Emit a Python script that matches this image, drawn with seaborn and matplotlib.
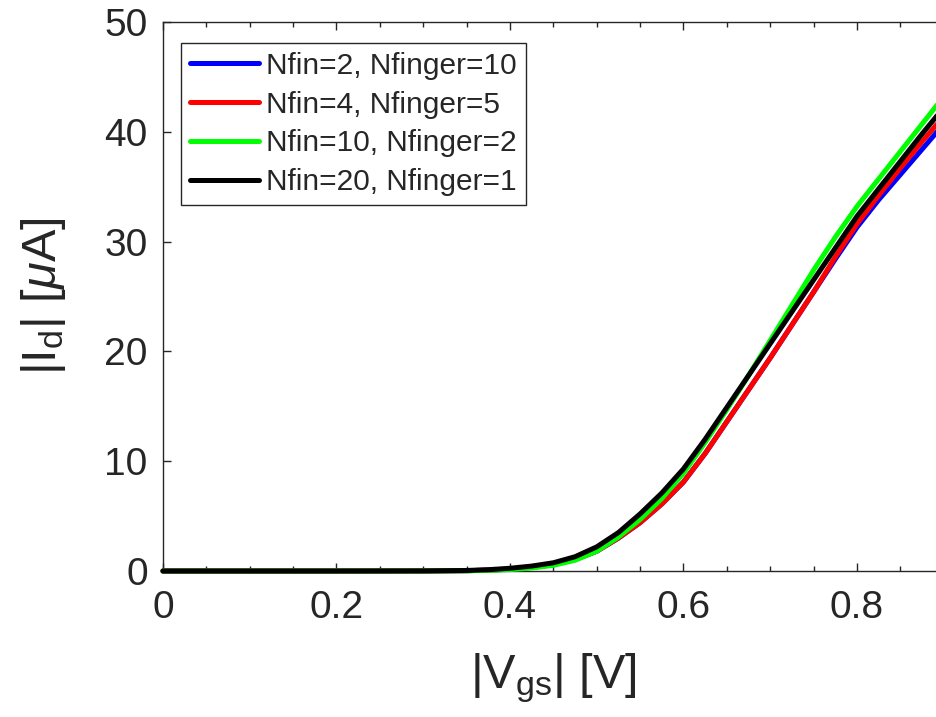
import numpy as np
import pandas as pd
import matplotlib
matplotlib.use("Agg")
import matplotlib.pyplot as plt
import seaborn as sns
from matplotlib.ticker import MultipleLocator

# ---- data ----
vgs = [0.0, 0.1, 0.2, 0.3, 0.35, 0.375, 0.4, 0.425, 0.45, 0.475, 0.5, 0.525,
       0.55, 0.575, 0.6, 0.625, 0.65, 0.675, 0.7, 0.725, 0.75, 0.775, 0.8,
       0.825, 0.85, 0.875, 0.9]
id_nfin2 = [0, 0, 0, 0.005, 0.03, 0.08, 0.17, 0.33, 0.58, 1.05, 1.8, 3.0,
            4.4, 6.1, 8.1, 10.7, 13.6, 16.5, 19.4, 22.4, 25.4, 28.4, 31.3,
            33.8, 36.1, 38.4, 40.7]
id_nfin4 = [0, 0, 0, 0.005, 0.03, 0.08, 0.17, 0.33, 0.58, 1.05, 1.8, 3.0,
            4.4, 6.1, 8.1, 10.7, 13.6, 16.5, 19.4, 22.4, 25.4, 28.6, 31.6,
            34.2, 36.7, 39.1, 41.4]
id_nfin10 = [0, 0, 0, 0.003, 0.02, 0.06, 0.13, 0.28, 0.52, 0.98, 1.8, 3.1,
             4.7, 6.6, 8.9, 11.7, 14.7, 17.8, 21.0, 24.2, 27.4, 30.4, 33.2,
             35.7, 38.2, 40.7, 43.2]
id_nfin20 = [0, 0, 0, 0.01, 0.05, 0.12, 0.25, 0.45, 0.75, 1.3, 2.2, 3.5,
             5.2, 7.1, 9.3, 12.0, 14.9, 17.8, 20.7, 23.6, 26.5, 29.4, 32.3,
             34.8, 37.3, 39.8, 42.2]
labels = ["Nfin=2, Nfinger=10", "Nfin=4, Nfinger=5",
          "Nfin=10, Nfinger=2", "Nfin=20, Nfinger=1"]
colors = ["#0000ff", "#ff0000", "#00ff00", "#000000"]
xticks = [0, 0.2, 0.4, 0.6, 0.8]
xticklabels = ["0", "0.2", "0.4", "0.6", "0.8"]
yticks = [0, 10, 20, 30, 40, 50]

series = [id_nfin2, id_nfin4, id_nfin10, id_nfin20]
df = pd.concat(
    [pd.DataFrame({"vgs": vgs, "id": s, "config": lab}) for s, lab in zip(series, labels)],
    ignore_index=True,
)

# ---- style ----
sns.set_style("ticks")
plt.rcParams["font.family"] = ["Liberation Sans", "DejaVu Sans"]
plt.rcParams["mathtext.fontset"] = "custom"
plt.rcParams["mathtext.rm"] = "Liberation Sans"
plt.rcParams["mathtext.it"] = "Liberation Sans:italic"
plt.rcParams["mathtext.bf"] = "Liberation Sans:bold"
plt.rcParams["mathtext.default"] = "regular"

dark = "#262626"
fig = plt.figure(figsize=(9.36, 7.17), dpi=100)
ax = fig.add_axes([0.1741, 0.2036, 0.8341, 0.7657])

sns.lineplot(data=df, x="vgs", y="id", hue="config", hue_order=labels,
             palette=colors, linewidth=3.6, estimator=None, sort=False, ax=ax)
for ln in ax.get_lines():
    ln.set_clip_on(False)
    ln.set_zorder(5)

ax.set_xlim(0, 0.9)
ax.set_ylim(0, 50)
ax.set_xticks(xticks)
ax.set_xticklabels(xticklabels)
ax.xaxis.set_minor_locator(MultipleLocator(0.05))
ax.set_yticks(yticks)
ax.tick_params(which="both", direction="in", top=True, right=True,
               colors=dark, labelcolor=dark, width=1.0)
ax.tick_params(which="major", length=6, labelsize=28)
ax.tick_params(which="minor", length=3.5)
ax.tick_params(axis="x", which="major", pad=14)
ax.tick_params(axis="y", which="major", pad=11)
for sp in ax.spines.values():
    sp.set_color(dark)
    sp.set_linewidth(1.0)
    sp.set_visible(True)

ax.set_xlabel(r"|V$_{gs}$| [V]", fontsize=35, color=dark, labelpad=18)
ax.set_ylabel(r"|I$_{d}$| [$\mathit{\mu}$A]", fontsize=35, color=dark, labelpad=26)

handles, labs = ax.get_legend_handles_labels()
leg = ax.legend(handles, labs, loc="upper left", bbox_to_anchor=(0.023, 0.962),
                borderaxespad=0, fontsize=21.5, handlelength=2.3,
                handletextpad=0.25, labelspacing=0.36, borderpad=0.3,
                fancybox=False, framealpha=1, edgecolor=dark)
leg.get_frame().set_linewidth(1.0)
for h in leg.get_lines():
    h.set_linewidth(3.6)

fig.savefig("out.png", dpi=100)
